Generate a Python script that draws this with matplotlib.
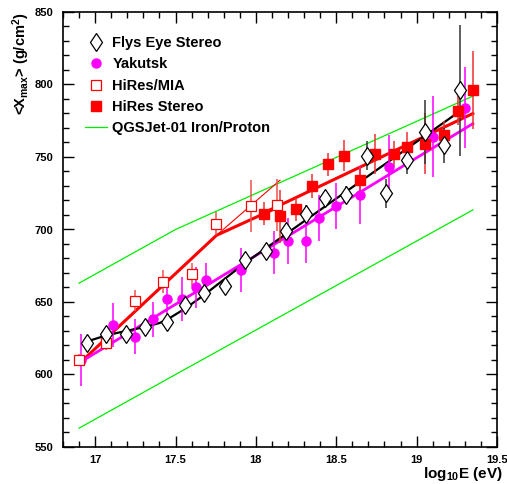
import matplotlib
matplotlib.use('Agg')
import matplotlib.pyplot as plt
from matplotlib.lines import Line2D
from matplotlib.ticker import MultipleLocator

plt.rcParams['font.family'] = ['Liberation Sans', 'DejaVu Sans']
plt.rcParams['font.weight'] = 'bold'
plt.rcParams['mathtext.fontset'] = 'custom'
plt.rcParams['mathtext.rm'] = 'Liberation Sans:bold'
plt.rcParams['mathtext.it'] = 'Liberation Sans:bold'
plt.rcParams['mathtext.bf'] = 'Liberation Sans:bold'

# Fly's Eye stereo
fe_x = [16.95, 17.07, 17.19, 17.31, 17.45, 17.56, 17.68, 17.81, 17.93, 18.06,
        18.19, 18.31, 18.43, 18.56, 18.69, 18.81, 18.94, 19.05, 19.17, 19.27]
fe_y = [622, 628, 628, 633, 636, 648, 656, 661, 679, 685,
        699, 711, 722, 724, 751, 725, 748, 767, 758, 796]
fe_err = [3, 3, 3, 3, 3, 3, 3, 3, 3, 3, 3, 6, 4, 6, 10, 10, 10, 22, 12, 45]

# Yakutsk
yk_x = [16.915, 17.11, 17.25, 17.36, 17.45, 17.54, 17.63, 17.69, 17.91, 18.11,
        18.20, 18.31, 18.39, 18.50, 18.65, 18.83, 19.10, 19.30]
yk_y = [610, 634, 626, 638, 652, 652, 660, 665, 672, 684, 692, 692, 708, 716,
        724, 743, 764, 784]
yk_err = [18, 15, 12, 12, 12, 15, 14, 12, 15, 15, 16, 15, 16, 16, 20, 22, 28, 28]

# HiRes/MIA
mia_x = [16.90, 17.07, 17.25, 17.42, 17.60, 17.75, 17.97, 18.13]
mia_y = [610, 622, 651, 664, 669, 704, 716, 717]
mia_err = [4, 5, 7, 8, 8, 8, 18, 18]

# HiRes stereo
hs_x = [18.05, 18.15, 18.25, 18.35, 18.45, 18.55, 18.65, 18.74, 18.86, 18.94,
        19.05, 19.17, 19.26, 19.35]
hs_y = [711, 709, 714, 730, 745, 751, 734, 752, 752, 757, 759, 765, 782, 796]
hs_err = [8, 18, 8, 8, 8, 11, 9, 14, 9, 10, 21, 10, 10, 27]

# fitted / model curves
fe_fit_x = [16.955, 17.07, 17.19, 17.30, 17.40, 17.45, 17.56, 17.68, 17.93, 19.30]
fe_fit_y = [623, 627, 630, 632.5, 635.5, 638, 645.5, 655, 676.7, 784]
yk_fit_x = [16.915, 19.35]
yk_fit_y = [609, 773]
mia_fit_x = [16.915, 17.755, 18.15]
mia_fit_y = [609, 696, 716]
mia_thin_x = [17.755, 18.15]
mia_thin_y = [696, 734]
hs_fit_x = [18.05, 19.35]
hs_fit_y = [711.5, 780]
qgs_p_x = [16.9, 17.5, 19.35]
qgs_p_y = [663, 700, 792]
qgs_fe_x = [16.9, 17.5, 19.35]
qgs_fe_y = [563, 600, 713.5]

fig = plt.figure(figsize=(5.07, 4.84), dpi=100)
ax = fig.add_axes([63/507, 1-447/484, 434/507, 435/484])

# model lines
ax.plot(qgs_p_x, qgs_p_y, color='#00ee00', lw=0.9)
ax.plot(qgs_fe_x, qgs_fe_y, color='#00ee00', lw=0.9)

# fits
ax.plot(mia_thin_x, mia_thin_y, color='red', lw=0.8)
ax.plot(mia_fit_x, mia_fit_y, color='red', lw=2.2)
ax.plot(hs_fit_x, hs_fit_y, color='red', lw=2.2)
ax.plot(yk_fit_x, yk_fit_y, color='magenta', lw=2.0)
ax.plot(fe_fit_x, fe_fit_y, color='black', lw=1.6)

# data
ax.errorbar(yk_x, yk_y, yerr=yk_err, fmt='o', color='magenta', ms=6.5,
            elinewidth=1.1, capsize=0)
ax.errorbar(mia_x, mia_y, yerr=mia_err, fmt='s', mfc='white', mec='red',
            ecolor='#f05050', ms=6.5, mew=0.9, elinewidth=1.1, capsize=0)
ax.errorbar(hs_x, hs_y, yerr=hs_err, fmt='s', color='red', ecolor='#f03030',
            ms=6.5, elinewidth=1.1, capsize=0)
ax.errorbar(fe_x, fe_y, yerr=fe_err, fmt='d', mfc='white', mec='black',
            ecolor='#333333', ms=9.5, mew=0.9, elinewidth=1.1, capsize=0)

ax.set_xlim(16.8, 19.5)
ax.set_ylim(550, 850)
ax.xaxis.set_major_locator(MultipleLocator(0.5))
ax.xaxis.set_minor_locator(MultipleLocator(0.1))
ax.yaxis.set_major_locator(MultipleLocator(50))
ax.yaxis.set_minor_locator(MultipleLocator(10))
ax.xaxis.set_major_formatter(plt.FuncFormatter(lambda v, p: '%g' % v))
ax.tick_params(which='both', direction='in', top=True, right=True,
               labelsize=8, width=1)
ax.tick_params(which='major', length=8)
ax.tick_params(which='minor', length=4)
ax.tick_params(axis='x', pad=6)
ax.tick_params(axis='y', pad=7)
for s in ax.spines.values():
    s.set_linewidth(1.2)

fig.text(21/507, 1-12/484, '<X$_{\\rm max}$> (g/cm$^{\\rm 2}$)', rotation=90,
         ha='center', va='top', fontsize=10.5, fontweight='bold')
fig.text(503/507, 1-478/484, 'log$_{\\rm 10}$E (eV)', ha='right', va='baseline',
         fontsize=11, fontweight='bold')

handles = [
    Line2D([], [], marker='d', ls='none', mfc='white', mec='black', ms=9.5, mew=0.9),
    Line2D([], [], marker='o', ls='none', color='magenta', ms=6.5),
    Line2D([], [], marker='s', ls='none', mfc='white', mec='red', ms=6.5, mew=0.9),
    Line2D([], [], marker='s', ls='none', color='red', ms=6.5),
    Line2D([], [], color='#00ee00', lw=0.9),
]
labels = ['Flys Eye Stereo', 'Yakutsk', 'HiRes/MIA', 'HiRes Stereo',
          'QGSJet-01 Iron/Proton']
ax.legend(handles, labels, loc='upper left', bbox_to_anchor=(0.038, 0.958),
          frameon=False, handlelength=1.5, handletextpad=0.35,
          labelspacing=0.5, borderaxespad=0, prop={'weight': 'bold', 'size': 10.5})

fig.savefig('out.png', dpi=100)
